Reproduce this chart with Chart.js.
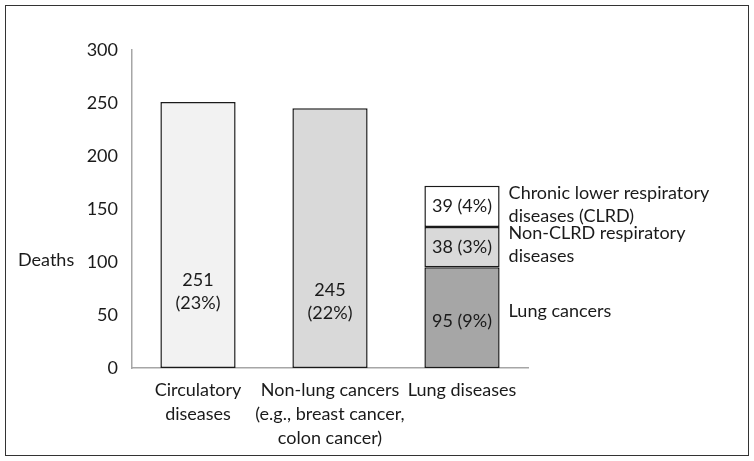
<!DOCTYPE html>
<html>
<head>
<meta charset="utf-8">
<script src="https://cdn.jsdelivr.net/npm/chart.js@4/dist/chart.umd.min.js"></script>
<style>
  body { margin: 0; background: #fff; }
  canvas { display: block; }
</style>
</head>
<body>
<canvas id="deathsChart" width="754" height="461"></canvas>
<script>
// Categories and values
const categories = [['Circulatory', 'diseases'], ['Non-lung cancers', '(e.g., breast cancer,', 'colon cancer)'], 'Lung diseases'];
const baseDeaths = [251, 245, 95];        // full bars + lung cancers segment
const nonClrdDeaths = [null, null, 38];
const clrdDeaths = [null, null, 39];
const yTicks = [0, 50, 100, 150, 200, 250, 300];

// Text shown inside bars
const baseLabels = [['251', '(23%)'], ['245', '(22%)'], ['95 (9%)']];
const nonClrdLabels = [null, null, ['38 (3%)']];
const clrdLabels = [null, null, ['39 (4%)']];
// where the label sits (in deaths) inside the first-dataset bars
const baseLabelAt = [72, 63, 44];

// Labels to the right of the lung stack (bottom to top)
const sideLabels = [
    ['Lung cancers'],
    ['Non-CLRD respiratory', 'diseases'],
    ['Chronic lower respiratory', 'diseases (CLRD)']
];
const lungCancerSideAt = 54;

const FONT = 'Lato, "Open Sans", sans-serif';
const TEXT = '#1a1a1a';

const ctx = document.getElementById('deathsChart').getContext('2d');

// Draws the frame, the "Deaths" title and all data text
const annotations = {
    id: 'annotations',
    afterDraw(chart) {
        const c = chart.ctx;
        const y = chart.scales.y;
        c.save();
        // outer frame
        c.strokeStyle = '#333';
        c.lineWidth = 1;
        c.strokeRect(5.5, 5.5, 743, 450);

        c.fillStyle = TEXT;
        c.font = '18px ' + FONT;
        c.textAlign = 'left';
        c.textBaseline = 'middle';
        c.fillText('Deaths', 18, 260);

        c.textAlign = 'center';
        const lineH = 23;
        const drawLines = (lines, x, cy) => {
            const top = cy - (lines.length - 1) * lineH / 2;
            lines.forEach((t, i) => c.fillText(t, x, top + i * lineH));
        };

        const sets = [baseLabels, nonClrdLabels, clrdLabels];
        sets.forEach((labels, di) => {
            chart.getDatasetMeta(di).data.forEach((bar, i) => {
                if (!labels[i]) return;
                let cy = (bar.y + bar.base) / 2;
                if (di === 0) cy = y.getPixelForValue(baseLabelAt[i]);
                drawLines(labels[i], bar.x, cy);
            });
        });

        // side labels next to the lung diseases stack
        c.textAlign = 'left';
        sideLabels.forEach((lines, di) => {
            const bar = chart.getDatasetMeta(di).data[2];
            const x = bar.x + bar.width / 2 + 9;
            const cy = di === 0 ? y.getPixelForValue(lungCancerSideAt) : (bar.y + bar.base) / 2 - 2;
            drawLines(lines, x, cy);
        });
        c.restore();
    }
};

new Chart(ctx, {
    type: 'bar',
    data: {
        labels: categories,
        datasets: [
            {
                label: 'Deaths',
                data: baseDeaths,
                backgroundColor: ['#f2f2f2', '#d9d9d9', '#a6a6a6']
            },
            {
                label: 'Non-CLRD respiratory diseases',
                data: nonClrdDeaths,
                backgroundColor: '#d9d9d9'
            },
            {
                label: 'Chronic lower respiratory diseases (CLRD)',
                data: clrdDeaths,
                backgroundColor: '#ffffff'
            }
        ].map(d => Object.assign(d, {
            borderColor: '#1a1a1a',
            borderWidth: 1.5,
            borderSkipped: false,
            barPercentage: 0.57,
            categoryPercentage: 1
        }))
    },
    options: {
        responsive: false,
        animation: false,
        layout: { padding: { left: 0, right: 226, top: 50, bottom: 0 } },
        plugins: {
            legend: { display: false },
            tooltip: { enabled: false }
        },
        scales: {
            x: {
                stacked: true,
                grid: { display: false },
                border: { display: true, color: '#a6a6a6', width: 1.5 },
                ticks: {
                    color: TEXT,
                    font: { family: FONT, size: 18, lineHeight: 1.33 },
                    maxRotation: 0,
                    autoSkip: false,
                    padding: 2
                },
                afterFit: s => { s.height = 93; }
            },
            y: {
                stacked: true,
                min: 0,
                max: 300,
                grid: { display: false },
                border: { display: true, color: '#a6a6a6', width: 1.5 },
                afterBuildTicks: s => { s.ticks = yTicks.map(v => ({ value: v })); },
                ticks: {
                    color: TEXT,
                    font: { family: FONT, size: 18 },
                    padding: 6
                },
                afterFit: s => { s.width = 132; }
            }
        }
    },
    plugins: [annotations]
});
</script>
</body>
</html>
